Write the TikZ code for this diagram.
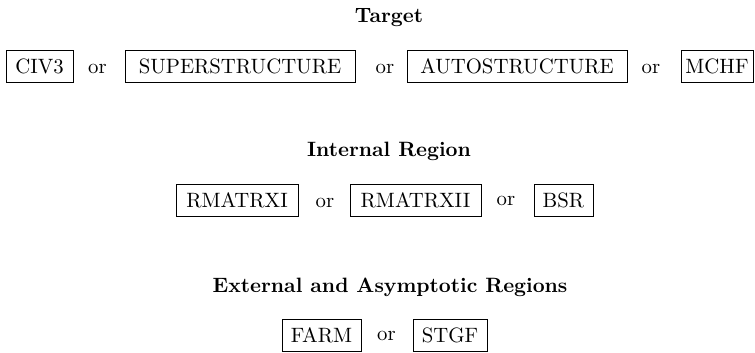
\documentclass[tikz,border=0pt]{standalone}
\begin{document}
\def\u{0.4817pt}
\begin{tikzpicture}[x=0.4817pt,y=-0.4817pt,
  prog/.style={draw,line width=0.45pt,inner sep=0pt,minimum height={32*\u},text height=6.83pt,text depth=0pt},
  ortext/.style={anchor=base,inner sep=0pt},
  head/.style={anchor=base,inner sep=0pt,font=\bfseries}]
\useasboundingbox (0,0) rectangle (755,352);
% Row 1
\node[head] (t1) at (389,22) {Target};
\node[prog,minimum width={67*\u}] (civ3) at (39.5,66) {CIV3};
\node[ortext] (or1) at (97.5,73) {or};
\node[prog,minimum width={230*\u}] (super) at (240,66) {SUPERSTRUCTURE};
\node[ortext] (or2) at (385,73) {or};
\node[prog,minimum width={220*\u}] (auto) at (517,66) {AUTOSTRUCTURE};
\node[ortext] (or3) at (651,73) {or};
\node[prog,minimum width={72*\u}] (mchf) at (717,66) {MCHF};
% Row 2
\node[head] (t2) at (389,156) {Internal Region};
\node[prog,minimum width={122*\u}] (rm1) at (237,200) {RMATRXI};
\node[ortext] (or4) at (325,207) {or};
\node[prog,minimum width={131*\u}] (rm2) at (415.5,200) {RMATRXII};
\node[ortext] (or5) at (506,205.5) {or};
\node[prog,minimum width={59*\u}] (bsr) at (563.5,200) {BSR};
% Row 3
\node[head] (t3) at (390,292) {External and Asymptotic Regions};
\node[prog,minimum width={79*\u}] (farm) at (321.5,335) {FARM};
\node[ortext] (or6) at (386.5,340) {or};
\node[prog,minimum width={74*\u}] (stgf) at (450,335) {STGF};
\end{tikzpicture}
\end{document}
